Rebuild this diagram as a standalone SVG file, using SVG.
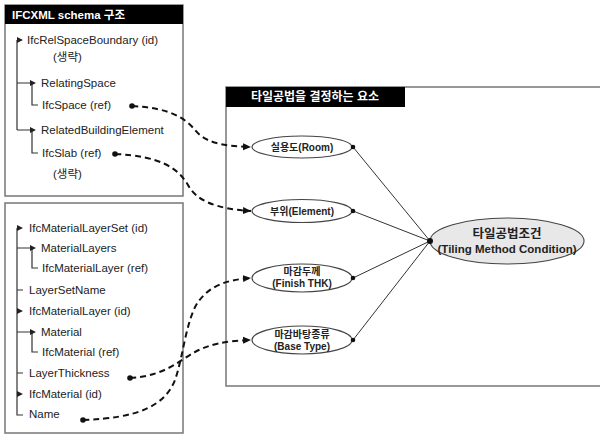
<svg xmlns="http://www.w3.org/2000/svg" width="600" height="436" viewBox="0 0 600 436">
<defs>
<marker id="arr" markerUnits="userSpaceOnUse" markerWidth="9" markerHeight="8" refX="8" refY="4" orient="auto"><path d="M0,0.5 L8,4 L0,7.5 Z" fill="#111"/></marker>
<marker id="dot" markerUnits="userSpaceOnUse" markerWidth="8" markerHeight="8" refX="4" refY="4"><circle cx="4" cy="4" r="2.8" fill="#111"/></marker>
</defs>
<style>
.box{fill:#fff;stroke:#777;stroke-width:1.5}
.hdr{fill:#000}
.ht{font-family:"Liberation Sans","Noto Sans CJK KR",sans-serif;font-weight:bold;fill:#fff}
.t{font-family:"Liberation Sans","Noto Sans CJK KR",sans-serif;font-size:11.5px;fill:#222}
.tr{fill:none;stroke:#333;stroke-width:1.2}
.el{fill:#fff;stroke:#444;stroke-width:1.1}
.big{fill:#e8e8e8;stroke:#444;stroke-width:1.1}
.lb{font-family:"Liberation Sans","Noto Sans CJK KR",sans-serif;font-weight:bold;font-size:10px;fill:#222;text-anchor:middle}
.lbb{font-family:"Liberation Sans","Noto Sans CJK KR",sans-serif;font-weight:bold;fill:#222;text-anchor:middle}
.dash{fill:none;stroke:#111;stroke-width:2;stroke-dasharray:6,4}
.sl{stroke:#333;stroke-width:1}
</style>
<g id="ifc-box">
<rect class="box" x="5" y="5" width="178" height="191"/>
<rect class="hdr" x="5" y="5" width="178" height="19"/>
<text class="ht" x="12" y="19" font-size="11.5">IFCXML schema 구조</text>
<path class="tr" d="M17,40 V130 M17,83 H32 M32,83 V105 H38 M17,130 H32 M32,130 V153 H38"/>
<path d="M17,37 L23,40 L17,43 Z M30,80 L36,83 L30,86 Z M30,127 L36,130 L30,133 Z" fill="#222"/>
<text class="t" x="27" y="44">IfcRelSpaceBoundary (id)</text>
<text class="t" x="53" y="61">(생략)</text>
<text class="t" x="41" y="87">RelatingSpace</text>
<text class="t" x="42" y="109">IfcSpace (ref)</text>
<text class="t" x="41" y="134">RelatedBuildingElement</text>
<text class="t" x="42" y="157">IfcSlab (ref)</text>
<text class="t" x="53" y="178">(생략)</text>
</g>
<g id="material-box">
<rect class="box" x="5" y="203" width="178" height="230"/>
<path class="tr" d="M17,228 V415 H23 M17,248 H32 M32,248 V268 H38 M17,290 H23 M17,332 H32 M32,332 V352 H38 M17,373 H23"/>
<path d="M17,225 L23,228 L17,231 Z M30,245 L36,248 L30,251 Z M17,308 L23,311 L17,314 Z M30,329 L36,332 L30,335 Z M17,391 L23,394 L17,397 Z" fill="#222"/>
<text class="t" x="29" y="232">IfcMaterialLayerSet (id)</text>
<text class="t" x="41" y="252">MaterialLayers</text>
<text class="t" x="42" y="272">IfcMaterialLayer (ref)</text>
<text class="t" x="29" y="294">LayerSetName</text>
<text class="t" x="29" y="315">IfcMaterialLayer (id)</text>
<text class="t" x="41" y="336">Material</text>
<text class="t" x="42" y="356">IfcMaterial (ref)</text>
<text class="t" x="29" y="377">LayerThickness</text>
<text class="t" x="29" y="398">IfcMaterial (id)</text>
<text class="t" x="29" y="418">Name</text>
</g>
<g id="factor-box">
<path d="M601,87 H226 V386 H601" fill="#fff" stroke="#777" stroke-width="1.5"/>
<rect class="hdr" x="226" y="87" width="179" height="20"/>
<text class="ht" x="315" y="101" font-size="12" text-anchor="middle">타일공법을 결정하는 요소</text>
</g>
<g id="node-room">
<ellipse class="el" cx="302" cy="147" rx="50" ry="11"/>
<text class="lb" x="302" y="151">실용도(Room)</text>
</g>
<g id="node-element">
<ellipse class="el" cx="302" cy="211" rx="50" ry="11.5"/>
<text class="lb" x="302" y="215">부위(Element)</text>
</g>
<g id="node-finish">
<ellipse class="el" cx="302" cy="278" rx="50" ry="14"/>
<text class="lb" x="302" y="275">마감두께</text>
<text class="lb" x="302" y="287">(Finish THK)</text>
</g>
<g id="node-base">
<ellipse class="el" cx="302" cy="340" rx="50" ry="14"/>
<text class="lb" x="302" y="338">마감바탕종류</text>
<text class="lb" x="302" y="350">(Base Type)</text>
</g>
<g id="node-condition">
<ellipse class="big" cx="507" cy="241" rx="77" ry="23"/>
<text class="lbb" x="507" y="238" font-size="12.5">타일공법조건</text>
<text class="lbb" x="507" y="253" font-size="11.5">(Tiling Method Condition)</text>
</g>
<g id="connectors">
<path class="dash" d="M132,106 C170,108 185,118 195,130 C205,142 220,146 251,147" marker-start="url(#dot)" marker-end="url(#arr)"/>
<path class="dash" d="M115,154 C160,156 178,168 188,185 C196,200 215,209 251,211" marker-start="url(#dot)" marker-end="url(#arr)"/>
<path class="dash" d="M130,378 C165,376 180,360 195,352 C210,344 225,341 251,340" marker-start="url(#dot)" marker-end="url(#arr)"/>
<path class="dash" d="M83,420 C140,418 165,405 175,380 C183,358 186,320 198,302 C210,286 225,280 251,278" marker-start="url(#dot)" marker-end="url(#arr)"/>
<g class="sl">
<line x1="353" y1="147" x2="430" y2="241"/>
<line x1="353" y1="211" x2="430" y2="241"/>
<line x1="353" y1="278" x2="430" y2="241"/>
<line x1="353" y1="340" x2="430" y2="241"/>
</g>
<g fill="#111">
<circle cx="353" cy="147" r="2.3"/>
<circle cx="353" cy="211" r="2.3"/>
<circle cx="353" cy="278" r="2.3"/>
<circle cx="353" cy="340" r="2.3"/>
<circle cx="430" cy="241" r="3"/>
</g>
</g>
</svg>
